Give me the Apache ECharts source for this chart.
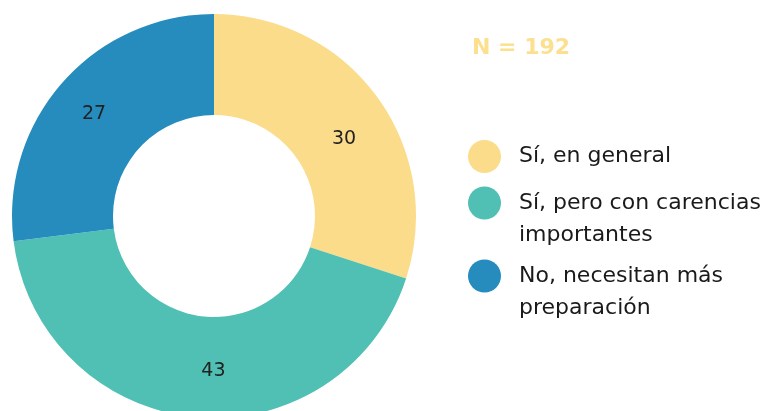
<!DOCTYPE html>
<html>
<head>
<meta charset="utf-8">
<script src="https://cdn.jsdelivr.net/npm/echarts@6/dist/echarts.min.js"></script>
<style>
  html, body { margin: 0; padding: 0; background: #fff; }
  #main { width: 781px; height: 411px; }
</style>
</head>
<body>
<div id="main"></div>
<script>
// datos del gráfico
var categories = ['Sí, en general', 'Sí, pero con carencias importantes', 'No, necesitan más preparación'];
var legendLabels = ['Sí, en general', 'Sí, pero con carencias\nimportantes', 'No, necesitan más\npreparación'];
var values = [30, 43, 27];
var colors = ['#FADC8A', '#50BFB4', '#258CBD'];
var totalN = 192;

// ajustes finos de las etiquetas
var labelOffsets = [[5, 14], [14, 1], [-4, 0]];

var FONT = 'DejaVu Sans';
var myChart = echarts.init(document.getElementById('main'));

var pieData = categories.map(function (name, i) {
    return {
        name: name,
        value: values[i],
        itemStyle: { color: colors[i] },
        label: { offset: labelOffsets[i] }
    };
});

function legendFor(i, top, multi) {
    return {
        data: [categories[i]],
        left: 468,
        top: top,
        padding: 0,
        orient: 'vertical',
        icon: 'circle',
        itemWidth: 33,
        itemHeight: 33,
        selectedMode: false,
        // linea vacia delante para que el icono quede a la altura de la primera linea
        formatter: function () { return (multi ? '\n' : '') + legendLabels[i]; },
        textStyle: {
            fontFamily: FONT,
            fontSize: 22,
            color: '#1a1a1a',
            lineHeight: 32,
            padding: [0, 0, 0, 13]
        }
    };
}

myChart.setOption({
    animation: false,
    title: {
        text: 'N = ' + totalN,
        left: 472,
        top: 37,
        padding: 0,
        textStyle: { fontFamily: FONT, fontSize: 22, fontWeight: 'bold', color: '#FCE08F' }
    },
    legend: [
        legendFor(0, 140, false),
        legendFor(1, 155, true),
        legendFor(2, 228, true)
    ],
    series: [{
        type: 'pie',
        center: [214, 216],
        radius: [101, 202],
        startAngle: 90,
        clockwise: true,
        silent: true,
        label: {
            show: true,
            position: 'inside',
            formatter: '{c}',
            fontFamily: FONT,
            fontSize: 19,
            color: '#222'
        },
        labelLine: { show: false },
        data: pieData
    }]
});
</script>
</body>
</html>
